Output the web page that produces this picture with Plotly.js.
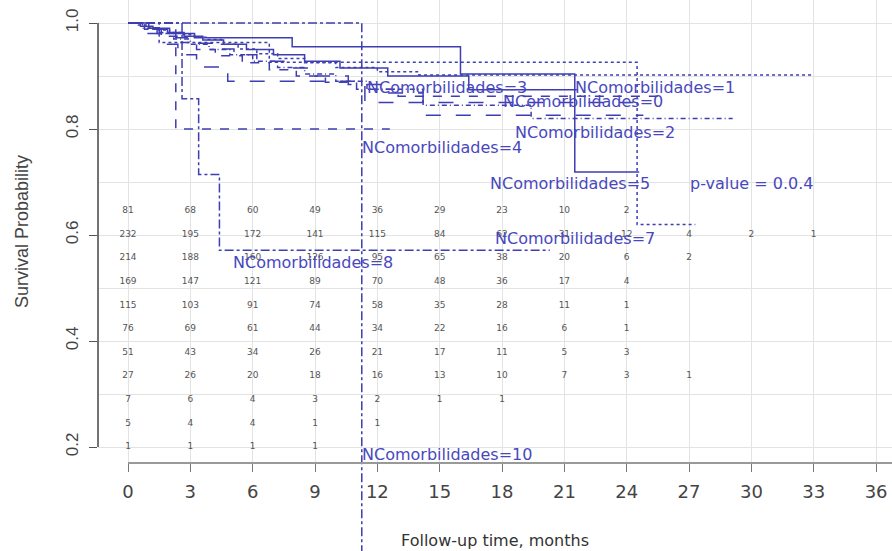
<!DOCTYPE html>
<html><head><meta charset="utf-8">
<script src="https://cdn.plot.ly/plotly-3.0.1.min.js"></script>
<style>html,body{margin:0;padding:0;background:#fff}#chart{width:892px;height:551px}</style>
</head><body><div id="chart"></div>
<script>
// ---- data ----
const groupNames = ['NComorbilidades=0','NComorbilidades=1','NComorbilidades=2','NComorbilidades=3',
  'NComorbilidades=4','NComorbilidades=5','NComorbilidades=6','NComorbilidades=7',
  'NComorbilidades=8','NComorbilidades=9','NComorbilidades=10'];

const time0 = [0,0.8,1.6,2.5,3.3,4.2,5.5,6.8,8.1,9.5,11,13,25.5];
const surv0 = [1,.988,.975,.963,.95,.938,.925,.912,.9,.888,.875,.862,.862];
const time1 = [0,0.5,1.0,1.5,2.0,2.6,3.2,3.8,4.5,5.3,6.2,7.2,8.5,10,12,14,32.9];
const surv1 = [1,.996,.991,.987,.982,.978,.973,.969,.96,.951,.942,.933,.925,.916,.908,.902,.902];
const time2 = [0,0.7,1.4,2.2,3.0,3.9,4.9,6.0,7.2,8.5,10,11.5,14.2,19.4,29.1];
const surv2 = [1,.99,.98,.97,.96,.95,.94,.928,.916,.904,.89,.875,.845,.82,.82];
const time3 = [0,0.6,1.2,1.9,2.7,3.6,4.6,5.7,7.0,8.5,10.2,12.5,16.4,21.6];
const surv3 = [1,.994,.988,.982,.975,.968,.96,.95,.94,.928,.915,.9,.874,.874];
const time4 = [0,0.7,1.5,2.3,3.2,4.1,5.1,6.2,7.5,9.0,10.6,12.4,14.2,24.8];
const surv4 = [1,.991,.982,.972,.962,.951,.94,.928,.915,.9,.884,.868,.826,.826];
const time5 = [0,1.0,2.0,3.2,7.9,16.0,21.5,24.6];
const surv5 = [1,.99,.98,.972,.955,.904,.719,.719];
const time6 = [0,0.8,1.6,2.4,3.3,4.8,11.4,24.8];
const surv6 = [1,.98,.96,.94,.917,.89,.85,.85];
const time7 = [0,1.5,6.8,24.5,27.3];
const surv7 = [1,.963,.926,.62,.62];
const time8 = [0,2.6,3.4,4.4,20.3];
const surv8 = [1,.857,.714,.571,.571];
const time9 = [0,2.3,12.6];
const surv9 = [1,.8,.8];
const time10 = [0,11.25];
const surv10 = [1,0];

const riskTimes = [0,3,6,9,12,15,18,21,24,27,30,33];
const risk0  = [81,68,60,49,36,29,23,10,2];
const risk1  = [232,195,172,141,115,84,62,31,12,4,2,1];
const risk2  = [214,188,160,126,95,65,38,20,6,2];
const risk3  = [169,147,121,89,70,48,36,17,4];
const risk4  = [115,103,91,74,58,35,28,11,1];
const risk5  = [76,69,61,44,34,22,16,6,1];
const risk6  = [51,43,34,26,21,17,11,5,3];
const risk7  = [27,26,20,18,16,13,10,7,3,1];
const risk8  = [7,6,4,3,2,1,1];
const risk9  = [5,4,4,1,1];
const risk10 = [1,1,1,1];

const pValueText = 'p-value = 0.0.4';
const xTitle = 'Follow-up time, months';
const yTitle = 'Survival Probability';

// ---- layout helpers (positions / styles) ----
const times = [time0,time1,time2,time3,time4,time5,time6,time7,time8,time9,time10];
const survs = [surv0,surv1,surv2,surv3,surv4,surv5,surv6,surv7,surv8,surv9,surv10];
const risks = [risk0,risk1,risk2,risk3,risk4,risk5,risk6,risk7,risk8,risk9,risk10];
const dashes = ['dash','dot','5px,3px,1px,3px','solid','longdash','solid','longdash','dot','dashdot','dash','dashdot'];
const labelX = [17.95,21.41,18.53,11.41,11.16,17.33,-3.27,17.57,4.96,-5.58,11.16];
const labelY = [0.851,0.879,0.794,0.879,0.766,0.698,0.866,0.594,0.549,0.775,0.185];
const pPos = [26.95, 0.698];
const riskTop = 0.6453, riskStep = 0.04453;

const lineCol = 'rgb(62,62,178)';
const labCol = 'rgb(72,72,190)';

const xRange = [-1.4437, 36.766];
const yRange = [0.16981, 1.04340];
const y2Range = [0.003774, 0.16981];
const dom0 = 88/551;

const traces = [];
for (let g = 0; g < times.length; g++) {
  traces.push({x: times[g], y: survs[g], type:'scatter', mode:'lines', line:{shape:'hv', color:lineCol, width:1.5, dash:dashes[g]},
    name: groupNames[g], showlegend:false, hoverinfo:'skip'});
}
// group 10 continues below the x axis
traces.push({x: time10, y: surv10, xaxis:'x2', yaxis:'y2', type:'scatter', mode:'lines',
  line:{shape:'hv', color:lineCol, width:1.5, dash:dashes[10]}, showlegend:false, hoverinfo:'skip'});

for (let g = 0; g < risks.length; g++) {
  const r = risks[g];
  traces.push({x: riskTimes.slice(0, r.length), y: r.map(() => riskTop - g*riskStep), text: r.map(String),
    type:'scatter', mode:'text', textfont:{family:'DejaVu Sans', size:9, color:'#555'}, cliponaxis:false,
    showlegend:false, hoverinfo:'skip'});
}

const annotations = groupNames.map((t, g) => ({x: labelX[g], y: labelY[g], xref:'x', yref:'y', text:t, showarrow:false,
  xanchor:'left', yanchor:'middle', font:{family:'DejaVu Sans', size:16, color:labCol}}));
annotations.push({x: pPos[0], y: pPos[1], xref:'x', yref:'y', text: pValueText, showarrow:false,
  xanchor:'left', yanchor:'middle', font:{family:'DejaVu Sans', size:16, color:labCol}});

const yFrac = v => dom0 + (v - yRange[0]) / (yRange[1] - yRange[0]) * (1 - dom0);
const xFrac = v => (v - xRange[0]) / (xRange[1] - xRange[0]);

const layout = {
  width: 892, height: 551,
  margin: {l: 98, r: 0, t: 0, b: 0},
  paper_bgcolor: '#fff', plot_bgcolor: 'rgba(0,0,0,0)',
  hovermode: false, showlegend: false,
  xaxis: {domain:[0,1], range: xRange, anchor:'y', tick0:0, dtick:3, ticks:'outside', ticklen:8, tickcolor:'#777',
    showline:false, zeroline:false, showgrid:true, gridcolor:'#e3e3e3', gridwidth:1,
    tickfont:{family:'DejaVu Sans', size:18, color:'#444'}, ticklabelstandoff:4,
    title:{text:xTitle, font:{family:'DejaVu Sans', size:16, color:'#333'}, standoff:34}},
  yaxis: {domain:[dom0,1], range: yRange, anchor:'x', tick0:0, dtick:0.2, tickformat:'.1f', ticks:'outside', ticklen:8,
    tickcolor:'#555', tickangle:-90, showline:false, zeroline:false, showgrid:true, gridcolor:'#e3e3e3',
    minor:{dtick:0.1, showgrid:true, gridcolor:'#e3e3e3', ticks:''},
    tickfont:{family:'Liberation Sans', size:17, color:'#444'}, ticklabelstandoff:4,
    title:{text:yTitle, font:{family:'Liberation Sans', size:18, color:'#444'}, standoff:29}},
  xaxis2: {domain:[0,1], range: xRange, anchor:'y2', visible:false},
  yaxis2: {domain:[0,dom0], range: y2Range, anchor:'x2', visible:false},
  annotations: annotations,
  shapes: [
    {type:'line', xref:'paper', yref:'paper', x0: xFrac(0), x1: 1, y0: dom0, y1: dom0, line:{color:'#999', width:2}},
    {type:'line', xref:'paper', yref:'paper', x0: 0, x1: 0, y0: yFrac(0.2), y1: yFrac(1.0), line:{color:'#444', width:1.5}}
  ]
};

Plotly.newPlot('chart', traces, layout, {staticPlot:true, displayModeBar:false});
</script>
</body></html>
